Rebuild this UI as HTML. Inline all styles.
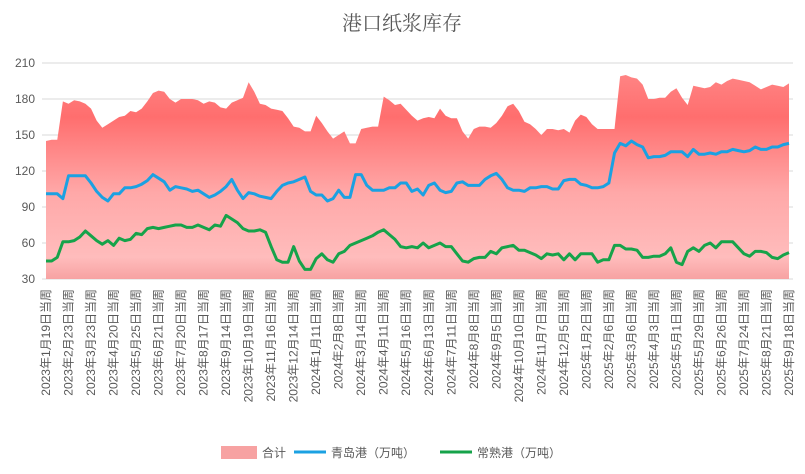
<!DOCTYPE html>
<html><head><meta charset="utf-8"><style>
html,body{margin:0;padding:0;background:#fff;}
svg{display:block;font-family:"Liberation Sans","Noto Sans CJK SC",sans-serif;}
</style></head><body>
<svg id="chart" width="805" height="474" viewBox="0 0 805 474">
<defs>
<linearGradient id="areaGrad" gradientUnits="userSpaceOnUse" x1="0" y1="63" x2="0" y2="279">
<stop offset="0" stop-color="#ff8a8a"/>
<stop offset="0.25" stop-color="#ff6e6e"/>
<stop offset="0.6" stop-color="#ffa8a8"/>
<stop offset="0.9" stop-color="#ffbcbc"/>
<stop offset="1" stop-color="#f7a2a2"/>
</linearGradient>
</defs>
<text x="402" y="30" text-anchor="middle" font-size="20" fill="#595959" font-family="'Noto Serif CJK SC',serif">港口纸浆库存</text>
<g id="grid"></g>
<g id="area"></g>
<g id="lines"></g>
<g id="xlabels"></g>
<g>
<rect x="221" y="446" width="36" height="13" fill="url(#areaGrad)"/>
<text x="262" y="457" font-size="12" fill="#595959">合计</text>
<line x1="294" y1="452" x2="326" y2="452" stroke="#1ba1e2" stroke-width="3"/>
<text x="331" y="457" font-size="12" fill="#595959">青岛港（万吨）</text>
<line x1="440" y1="452" x2="472" y2="452" stroke="#16a34a" stroke-width="3"/>
<text x="477" y="457" font-size="12" fill="#595959">常熟港（万吨）</text>
</g>
</svg>
<script>
const totalValues=[145,146,146,178,176,179,178,176,172,162,156,159,162,165,166,170,169,172,178,185,187,186,180,177,180,180,180,179,176,178,177,173,172,177,179,181,194,186,176,175,172,171,170,164,157,156,153,153,166,160,153,147,150,153,143,143,155,156,157,157,182,179,175,176,171,166,162,164,165,164,172,166,164,164,153,147,155,157,157,156,160,166,174,176,170,161,159,155,150,155,155,154,155,152,162,167,165,159,155,155,155,155,199,200,198,197,192,180,180,181,181,186,189,181,175,191,190,189,190,194,192,195,197,196,195,194,191,188,190,192,191,190,193];
const qingdaoValues=[101,101,101,97,116,116,116,116,110,103,98,95,101,101,106,106,107,109,112,117,114,111,104,107,106,105,103,104,101,98,100,103,107,113,104,97,102,101,99,98,97,103,108,110,111,113,115,103,100,100,95,97,104,98,98,117,117,108,104,104,104,106,106,110,110,103,105,100,108,110,104,102,103,110,111,108,108,108,113,116,118,113,106,104,104,103,106,106,107,107,105,105,112,113,113,109,108,106,106,107,110,135,143,141,145,142,140,131,132,132,133,136,136,136,132,138,134,134,135,134,136,136,138,137,136,137,140,138,138,140,140,142,143];
const changshuValues=[45,45,48,61,61,62,65,70,66,62,59,62,58,64,62,63,68,67,72,73,72,73,74,75,75,73,73,75,73,71,75,74,83,80,77,72,70,70,71,69,57,46,44,44,57,45,38,38,47,51,46,44,51,53,58,60,62,64,66,69,71,67,63,57,56,57,56,60,56,58,60,57,57,51,45,44,47,48,48,53,51,56,57,58,54,54,52,50,47,51,50,51,46,51,46,51,51,51,44,46,46,58,58,55,55,54,48,48,49,49,51,56,44,42,53,56,53,58,60,56,61,61,61,56,51,49,53,53,52,48,47,50,52];
const yTicks=[30,60,90,120,150,180,210];
const xLabels=["2023年1月19日当周","2023年2月23日当周","2023年3月23日当周","2023年4月20日当周","2023年5月25日当周","2023年6月21日当周","2023年7月20日当周","2023年8月17日当周","2023年9月14日当周","2023年10月19日当周","2023年11月16日当周","2023年12月14日当周","2024年1月11日当周","2024年2月8日当周","2024年3月14日当周","2024年4月11日当周","2024年5月16日当周","2024年6月13日当周","2024年7月11日当周","2024年8月8日当周","2024年9月5日当周","2024年10月10日当周","2024年11月7日当周","2024年12月5日当周","2025年1月2日当周","2025年2月6日当周","2025年3月6日当周","2025年4月3日当周","2025年5月1日当周","2025年5月29日当周","2025年6月26日当周","2025年7月24日当周","2025年8月21日当周","2025年9月18日当周"];

const NS="http://www.w3.org/2000/svg";
const L=46,R=789,T=63,B=279,yMin=30,yMax=210;
const n=totalValues.length;
function xs(i){return L+(R-L)*i/(n-1);}
function ys(v){return B-(v-yMin)/(yMax-yMin)*(B-T);}
function mk(tag,attrs,parent){const e=document.createElementNS(NS,tag);for(const k in attrs)e.setAttribute(k,attrs[k]);parent.appendChild(e);return e;}

const grid=document.getElementById('grid');
yTicks.forEach(t=>{
  const ln=mk('line',{x1:42,x2:793,y1:ys(t),y2:ys(t),stroke:'#d9d9d9','stroke-width':1},grid);
  
  
  const tx=mk('text',{x:35,y:ys(t)+4,'text-anchor':'end','font-size':12,fill:'#595959'},grid);
  tx.textContent=t;
  
  
});

let d='M'+xs(0)+','+B;
totalValues.forEach((v,i)=>{d+=' L'+xs(i).toFixed(2)+','+ys(v).toFixed(2);});
d+=' L'+xs(n-1)+','+B+' Z';
const area=mk('path',{d:d,fill:'url(#areaGrad)'},document.getElementById('area'));



function line(vals,color,name){
  const p=vals.map((v,i)=>xs(i).toFixed(2)+','+ys(v).toFixed(2)).join(' ');
  const pl=mk('polyline',{points:p,fill:'none',stroke:color,'stroke-width':3,'stroke-linejoin':'round'},document.getElementById('lines'));
  
  
}
line(qingdaoValues,'#1ba1e2','qingdao-line');
line(changshuValues,'#16a34a','changshu-line');

const xl=document.getElementById('xlabels');
xLabels.forEach((lab,k)=>{
  const i=Math.min(k*4,n-1);
  const x=xs(i)+4, y=289;
  const t=mk('text',{x:x,y:y,transform:'rotate(-90 '+x+' '+y+')','text-anchor':'end','font-size':12,fill:'#595959'},xl);
  t.textContent=lab;
  
  
});
</script>
</body></html>
